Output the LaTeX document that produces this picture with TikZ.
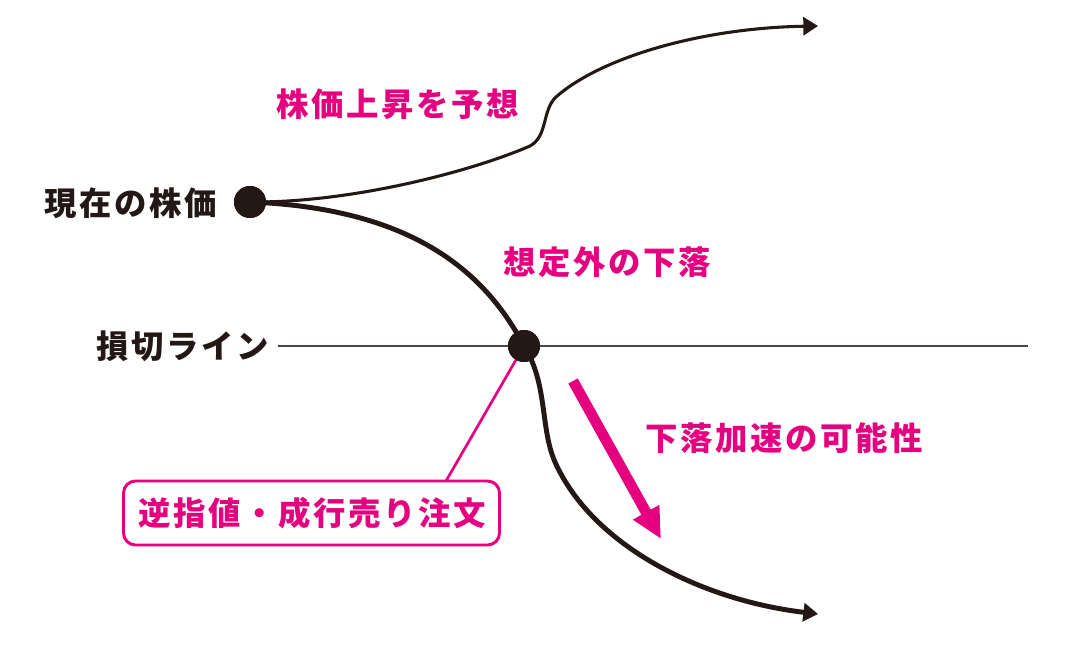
\documentclass[tikz,border=0pt]{standalone}
\usepackage{fontspec}
\newfontfamily\jp{Noto Sans CJK JP}[LetterSpace=8]
\usetikzlibrary{arrows.meta}
\definecolor{pk}{HTML}{E4007F}
\definecolor{bk}{HTML}{231815}
\begin{document}
\begin{tikzpicture}[x=0.75pt,y=-0.75pt,
  lbl/.style={font=\jp\bfseries\fontsize{24.3pt}{26pt}\selectfont, inner sep=0pt},
  pklbl/.style={lbl, text=pk},
  bklbl/.style={lbl, text=bk},
  dot/.style={circle, fill=bk, minimum size=24pt, inner sep=0pt},
  tipk/.style={-{Triangle[length=11pt,width=13.5pt]}}
]
\useasboundingbox (0,0) rectangle (1080,656);
% stop-loss line
\coordinate (hl1) at (278,346);
\coordinate (hl2) at (1028,346);
\draw[line width=0.9pt, draw=bk!80] (hl1) -- (hl2);
% nodes (dots)
\node[dot] (d1) at (250,202) {};
\node[dot] (d2) at (524,346) {};
% pink callout line and box
\node[draw=pk, line width=2.2pt, rounded corners=9pt, minimum width=282pt, minimum height=48pt, inner sep=0pt] (box) at (311.5,513) {};
\node[pklbl] (boxt) at (312,513) {逆指値・成行売り注文};
\coordinate (bt) at (446,481);
\draw[pk, line width=2pt] (d2.center) -- (bt);
% upper curve
\coordinate (e1) at (818,26);
\draw[bk, line width=2.3pt, tipk] (d1.center) .. controls (350,203) and (470,172) .. (530,146)
  .. controls (548,136) and (542,110) .. (556,97)
  .. controls (600,58) and (700,28) .. (e1);
% lower curve
\coordinate (e2) at (818,614);
\draw[bk, line width=3.7pt, tipk] (d1.center) .. controls (400,208) and (480,262) .. (d2.center)
  .. controls (548,384) and (540,428) .. (555,462)
  .. controls (592,545) and (700,600) .. (e2);
% redraw dots on top
\node[dot] at (d1) {};
\node[dot] at (d2) {};
% pink arrow
\coordinate (pa) at (573,381);
\coordinate (pb) at (661,539);
\draw[pk, line width=8pt, -{Triangle[length=23pt,width=21pt]}] (pa) -- (pb);
% labels
\node[pklbl] (up) at (398,104) {株価上昇を予想};
\node[bklbl] (now) at (131,203) {現在の株価};
\node[pklbl] (drop) at (607,262) {想定外の下落};
\node[bklbl] (sl) at (183,346) {損切ライン};
\node[pklbl] (acc) at (784,438) {下落加速の可能性};
\end{tikzpicture}
\end{document}
